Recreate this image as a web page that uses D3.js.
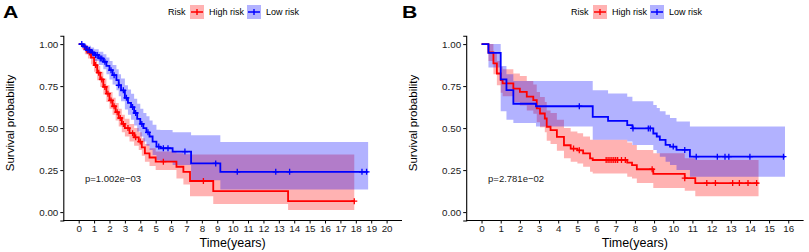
<!DOCTYPE html>
<html>
<head>
<meta charset="utf-8">
<script src="https://cdn.jsdelivr.net/npm/d3@7"></script>
<style>
  body { margin: 0; background: #fff; }
  text { font-family: "Liberation Sans", Arial, sans-serif; }
</style>
</head>
<body>
<svg id="chart" width="809" height="252"></svg>
<script>
// ---- panel A data ----
const timeA_high = [0, 0.2, 0.4, 0.6, 0.8, 1.0, 1.2, 1.4, 1.6, 1.8, 2.0, 2.2, 2.4, 2.6, 2.8, 3.0, 3.3, 3.6, 3.9, 4.1, 4.3, 4.6, 5.0, 6.35, 6.8, 7.23, 8.74, 13.6, 17.9]
const survA_high = [1, 0.99, 0.97, 0.95, 0.92, 0.875, 0.83, 0.79, 0.745, 0.705, 0.665, 0.63, 0.595, 0.56, 0.525, 0.5, 0.47, 0.445, 0.42, 0.385, 0.35, 0.325, 0.30, 0.27, 0.24, 0.185, 0.125, 0.065, 0.065]
const lowA_high = [1, 0.97, 0.94, 0.915, 0.88, 0.835, 0.785, 0.745, 0.70, 0.655, 0.615, 0.58, 0.545, 0.51, 0.475, 0.45, 0.42, 0.395, 0.37, 0.335, 0.30, 0.275, 0.25, 0.20, 0.165, 0.095, 0.048, 0.012, 0.012]
const upA_high = [1, 1, 0.995, 0.98, 0.955, 0.915, 0.87, 0.835, 0.795, 0.755, 0.715, 0.68, 0.65, 0.615, 0.58, 0.555, 0.525, 0.50, 0.475, 0.44, 0.405, 0.38, 0.36, 0.35, 0.345, 0.343, 0.343, 0.343, 0.343]
const censA_high = [0.5, 0.7, 1.1, 1.3, 1.5, 1.7, 1.9, 2.1, 2.3, 2.5, 2.7, 2.9, 3.2, 3.5, 3.7, 4.0, 5.5, 8.1, 17.9]

const timeA_low = [0, 0.3, 0.5, 0.8, 1.0, 1.3, 1.6, 1.8, 2.0, 2.2, 2.45, 2.6, 2.75, 3.0, 3.2, 3.4, 3.6, 3.8, 4.0, 4.2, 4.4, 4.6, 4.8, 5.05, 5.3, 6.1, 7.3, 9.2, 18.8]
const survA_low = [1, 0.985, 0.965, 0.95, 0.935, 0.915, 0.895, 0.87, 0.845, 0.815, 0.785, 0.755, 0.725, 0.68, 0.65, 0.625, 0.59, 0.555, 0.525, 0.5, 0.475, 0.45, 0.42, 0.39, 0.38, 0.36, 0.29, 0.24, 0.24]
const lowA_low = [1, 0.96, 0.94, 0.92, 0.90, 0.875, 0.85, 0.82, 0.79, 0.76, 0.725, 0.69, 0.66, 0.61, 0.58, 0.55, 0.515, 0.48, 0.45, 0.42, 0.395, 0.37, 0.34, 0.31, 0.30, 0.28, 0.19, 0.135, 0.135]
const upA_low = [1, 1, 0.99, 0.98, 0.97, 0.955, 0.94, 0.92, 0.90, 0.875, 0.85, 0.82, 0.795, 0.755, 0.73, 0.705, 0.675, 0.645, 0.615, 0.59, 0.57, 0.545, 0.52, 0.49, 0.488, 0.475, 0.458, 0.418, 0.418]
const censA_low = [0.2, 0.4, 0.6, 0.7, 0.9, 1.1, 1.2, 1.4, 1.5, 1.7, 2.1, 2.3, 2.6, 2.9, 3.1, 3.5, 3.7, 4.1, 4.5, 5.2, 5.5, 5.8, 6.9, 8.9, 10.3, 12.8, 13.7, 18.4, 18.7]

// ---- panel B data ----
const timeB_high = [0, 0.36, 0.62, 0.8, 1.0, 1.1, 1.66, 2.0, 2.36, 2.7, 2.88, 3.05, 3.3, 3.4, 3.6, 3.93, 4.3, 4.65, 5.0, 5.3, 5.66, 5.8, 7.6, 7.85, 8.1, 8.96, 10.6, 11.15, 14.45]
const survB_high = [1, 0.95, 0.885, 0.825, 0.785, 0.766, 0.735, 0.716, 0.687, 0.667, 0.617, 0.587, 0.557, 0.508, 0.488, 0.448, 0.398, 0.378, 0.368, 0.35, 0.32, 0.31, 0.295, 0.28, 0.255, 0.228, 0.202, 0.173, 0.173]
const lowB_high = [1, 0.90, 0.82, 0.755, 0.71, 0.69, 0.655, 0.635, 0.605, 0.585, 0.535, 0.505, 0.475, 0.425, 0.405, 0.365, 0.32, 0.30, 0.29, 0.27, 0.24, 0.23, 0.21, 0.20, 0.173, 0.143, 0.127, 0.095, 0.095]
const upB_high = [1, 1, 0.95, 0.90, 0.865, 0.85, 0.825, 0.81, 0.78, 0.76, 0.715, 0.685, 0.655, 0.605, 0.59, 0.55, 0.50, 0.48, 0.47, 0.45, 0.43, 0.43, 0.415, 0.40, 0.37, 0.35, 0.32, 0.31, 0.31]
const censB_high = [4.8, 5.1, 6.5, 6.6, 6.7, 6.8, 6.9, 7.0, 7.1, 7.3, 7.5, 8.9, 10.6, 11.75, 12.2, 13.1, 13.45, 13.9, 14.35]

const timeB_low = [0, 0.36, 1.0, 1.3, 1.66, 2.84, 5.8, 6.6, 7.6, 7.87, 8.96, 9.14, 9.3, 9.6, 9.83, 10.17, 10.87, 15.83]
const survB_low = [1, 0.948, 0.79, 0.726, 0.645, 0.63, 0.567, 0.543, 0.518, 0.498, 0.468, 0.45, 0.43, 0.40, 0.39, 0.37, 0.33, 0.33]
const lowB_low = [1, 0.86, 0.60, 0.55, 0.53, 0.51, 0.43, 0.43, 0.42, 0.40, 0.37, 0.35, 0.33, 0.30, 0.28, 0.25, 0.21, 0.21]
const upB_low = [1, 1, 0.87, 0.82, 0.78, 0.78, 0.726, 0.706, 0.687, 0.66, 0.637, 0.62, 0.60, 0.58, 0.56, 0.54, 0.51, 0.51]
const censB_low = [5.1, 7.9, 8.7, 8.8, 10.0, 10.6, 11.2, 12.3, 12.7, 12.9, 14.0, 15.75]

const ticksA = d3.range(0, 21)
const ticksB = d3.range(0, 17)
const yTicks = [0, 0.25, 0.5, 0.75, 1]
const groups = ['High risk', 'Low risk']
const colors = ['#ff0000', '#0000ff']

const svg = d3.select('#chart')

// shared y scale (ggplot 5% expansion)
const y = d3.scaleLinear().domain([-0.05, 1.05]).range([220.5, 35.7])

function series (t, s, lo, hi, cens) {
  return t.map((d, i) => ({t: d, s: s[i], lo: lo[i], hi: hi[i], cens: cens}))
}

function survAt (pts, t) {
  let v = pts[0].s
  pts.forEach((p) => { if (p.t <= t) v = p.s })
  return v
}

function drawPanel (opt) {
  let x = d3.scaleLinear().domain(opt.xdom).range(opt.xrange)
  let g = svg.append('g')

  // confidence bands
  opt.data.forEach((pts, k) => {
    let area = d3.area().curve(d3.curveStepAfter)
      .x((d) => x(d.t))
      .y0((d) => y(d.lo))
      .y1((d) => y(d.hi))
    g.append('path').datum(pts)
      .attr('d', area)
      .attr('fill', colors[k])
      .attr('fill-opacity', 0.3)
  })

  // survival curves
  opt.data.forEach((pts, k) => {
    let line = d3.line().curve(d3.curveStepAfter)
      .x((d) => x(d.t))
      .y((d) => y(d.s))
    g.append('path').datum(pts)
      .attr('d', line)
      .attr('fill', 'none')
      .attr('stroke', colors[k])
      .attr('stroke-width', 1.8)

    // censor marks
    let cs = pts[0].cens
    g.selectAll(null).data(cs).enter()
      .append('path')
      .attr('d', (d) => {
        let cx = x(d), cy = y(survAt(pts, d))
        return `M${cx - 3},${cy}H${cx + 3}M${cx},${cy - 3}V${cy + 3}`
      })
      .attr('stroke', colors[k])
      .attr('stroke-width', 1.3)
  })

  // axes
  let xAxis = d3.axisBottom(x).tickValues(opt.ticks).tickSize(3).tickPadding(2)
    .tickFormat(d3.format('d'))
  let gx = g.append('g').attr('transform', `translate(0,${y.range()[0]})`).call(xAxis)
  gx.select('.domain').attr('d', `M${opt.xrange[0]},0H${opt.xrange[1]}`)
  let yAxis = d3.axisLeft(y).tickValues(yTicks).tickSize(3).tickPadding(2)
    .tickFormat(d3.format('.2f'))
  let gy = g.append('g').attr('transform', `translate(${opt.xrange[0]},0)`).call(yAxis)
  ;[gx, gy].forEach((a) => {
    a.select('.domain').attr('stroke', '#000').attr('stroke-width', 1.1)
    a.selectAll('.tick line').attr('stroke', '#000').attr('stroke-width', 1)
    a.selectAll('.tick text').attr('fill', '#1a1a1a').style('font-size', '9.8px')
  })

  // axis titles
  g.append('text')
    .attr('x', (opt.xrange[0] + opt.xrange[1]) / 2).attr('y', 247)
    .attr('text-anchor', 'middle')
    .style('font-size', '12.5px')
    .text('Time(years)')
  g.append('text')
    .attr('transform', `translate(${opt.ytitleX},123) rotate(-90)`)
    .attr('text-anchor', 'middle')
    .style('font-size', '11.5px')
    .text('Survival probability')

  // p value
  g.append('text')
    .attr('x', x(opt.pPos[0])).attr('y', y(0.2) + 3.5)
    .style('font-size', '9.5px')
    .attr('fill', '#1a1a1a')
    .text(opt.pText)

  // panel letter
  g.append('text')
    .attr('x', opt.letterX).attr('y', 18.5)
    .style('font-size', '17px').style('font-weight', 'bold')
    .attr('transform', `translate(${opt.letterX},0) scale(1.25,1) translate(${-opt.letterX},0)`)
    .text(opt.letter)

  // legend
  let lg = g.append('g').attr('transform', `translate(${opt.legendX},12)`)
  lg.append('text').attr('x', 0).attr('y', 3.2).style('font-size', '9px').text('Risk')
  let offs = [22, 79]
  groups.forEach((name, k) => {
    let kx = offs[k]
    lg.append('rect').attr('x', kx).attr('y', -7).attr('width', 14).attr('height', 14)
      .attr('fill', colors[k]).attr('fill-opacity', 0.3)
    lg.append('path')
      .attr('d', `M${kx + 1},0H${kx + 13}M${kx + 7},-3V3M${kx + 4},0H${kx + 10}`)
      .attr('stroke', colors[k]).attr('stroke-width', 1.4)
    lg.append('text').attr('x', kx + 19).attr('y', 3.2).style('font-size', '9px').text(name)
  })
}

drawPanel({
  xdom: [-1, 21], xrange: [63.3, 402], ticks: ticksA,
  data: [series(timeA_high, survA_high, lowA_high, upA_high, censA_high),
         series(timeA_low, survA_low, lowA_low, upA_low, censA_low)],
  pText: 'p=1.002e\u221203', pPos: [0.41],
  letter: 'A', letterX: 3, ytitleX: 14, legendX: 168
})

drawPanel({
  xdom: [-0.8, 16.8], xrange: [466.2, 803.6], ticks: ticksB,
  data: [series(timeB_high, survB_high, lowB_high, upB_high, censB_high),
         series(timeB_low, survB_low, lowB_low, upB_low, censB_low)],
  pText: 'p=2.781e\u221202', pPos: [0.34],
  letter: 'B', letterX: 402, ytitleX: 417, legendX: 571
})
</script>
</body>
</html>
